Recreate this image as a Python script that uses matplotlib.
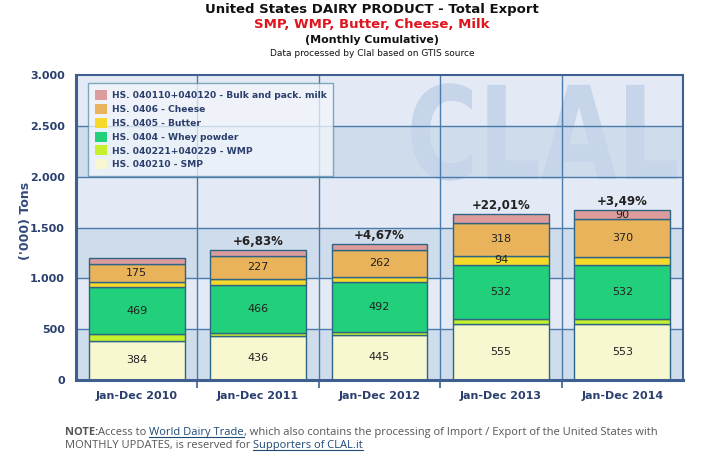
import matplotlib
matplotlib.use('Agg')
import matplotlib.pyplot as plt
from matplotlib.patches import Patch, PathPatch
from matplotlib.textpath import TextPath
from matplotlib.font_manager import FontProperties
from matplotlib.transforms import Affine2D
import numpy as np

# data (thousand tons)
years = ['Jan-Dec 2010', 'Jan-Dec 2011', 'Jan-Dec 2012', 'Jan-Dec 2013', 'Jan-Dec 2014']
smp = [384, 436, 445, 555, 553]
wmp = [65, 29, 30, 43, 50]
whey = [469, 466, 492, 532, 532]
butter = [47, 65, 49, 94, 75]
cheese = [175, 227, 262, 318, 370]
milk = [57, 56, 60, 88, 90]
growth = ['', '+6,83%', '+4,67%', '+22,01%', '+3,49%']

names = ['HS. 040210 - SMP', 'HS. 040221+040229 - WMP', 'HS. 0404 - Whey powder',
         'HS. 0405 - Butter', 'HS. 0406 - Cheese', 'HS. 040110+040120 - Bulk and pack. milk']
colors = ['#f7f8cf', '#c6f02c', '#22cf7a', '#f6d92a', '#e8b35b', '#dd9c9c']
series = [smp, wmp, whey, butter, cheese, milk]
show = [[1] * 5, [0] * 5, [1] * 5, [0, 0, 0, 1, 0], [1] * 5, [0, 0, 0, 0, 1]]

yticks = [0, 500, 1000, 1500, 2000, 2500, 3000]
ytick_labels = ['0', '500', '1.000', '1.500', '2.000', '2.500', '3.000']

navy = '#2b3f6e'
frame = '#3f5f90'

fig = plt.figure(figsize=(7.19, 4.71), dpi=100)
ax = fig.add_axes([76 / 719, 1 - 380 / 471, 607 / 719, 305 / 471])

x = np.arange(len(years))
ax.set_xlim(-0.5, len(years) - 0.5)
ax.set_ylim(0, 3000)

# background bands
for i in range(6):
    c = '#cfdcec' if i % 2 == 0 else '#e3eaf5'
    ax.axhspan(i * 500, (i + 1) * 500, color=c, zorder=0, lw=0)

# CLAL watermark
fp = FontProperties(family='DejaVu Sans', weight='bold')
tp = TextPath((0, 0), 'CLAL', prop=fp, size=1)
ext = tp.get_extents()
x0, x1, y0, y1 = 2.26, 4.45, 1960, 2920
tr = Affine2D().translate(-ext.x0, -ext.y0).scale((x1 - x0) / ext.width, (y1 - y0) / ext.height).translate(x0, y0)
ax.add_patch(PathPatch(tr.transform_path(tp), facecolor='#c6d5ea', edgecolor='none', zorder=0.3))

# grid
for yv in yticks[1:-1]:
    ax.axhline(yv, color='#4a7bab', lw=1, zorder=0.5)
for xv in np.arange(0.5, len(years) - 0.5):
    ax.axvline(xv, color='#4a7bab', lw=1, zorder=0.5)

bottom = np.zeros(len(years))
for vals, col, sh in zip(series, colors, show):
    vals = np.array(vals)
    ax.bar(x, vals, 0.79, bottom=bottom, color=col, edgecolor='#2f6584', lw=1, zorder=2)
    for i in range(len(years)):
        if sh[i]:
            ax.text(x[i], bottom[i] + vals[i] / 2, str(vals[i]), ha='center', va='center',
                    fontsize=8, color='#222222', zorder=3)
    bottom += vals

for i in range(len(years)):
    if growth[i]:
        ax.text(x[i], bottom[i] + 22, growth[i], ha='center', va='bottom', fontsize=8.5,
                fontweight='bold', color='#222222')

ax.set_yticks(yticks)
ax.set_yticklabels(ytick_labels, fontsize=8, fontweight='bold', color=navy)
ax.set_xticks(x)
ax.set_xticklabels(years, fontsize=8, fontweight='bold', color=navy)
ax.set_xticks(np.arange(0.5, len(years) - 0.5), minor=True)
ax.tick_params(axis='x', which='major', length=0, pad=8)
ax.tick_params(axis='x', which='minor', length=6, color=frame, width=1.2)
ax.tick_params(axis='y', length=0, pad=8)

for s in ['left', 'bottom']:
    ax.spines[s].set_linewidth(2.2)
    ax.spines[s].set_color(frame)
for s in ['top', 'right']:
    ax.spines[s].set_linewidth(1.5)
    ax.spines[s].set_color(frame)

ax.set_ylabel("('000) Tons", fontsize=9, fontweight='bold', color='#34497a')
ax.yaxis.set_label_coords(-0.072, 0.52)

handles = [Patch(facecolor=c, edgecolor='none', label=n) for c, n in zip(colors, names)][::-1]
leg = ax.legend(handles=handles, loc='upper left', bbox_to_anchor=(0.02, 0.974), fontsize=6.6,
                frameon=True, fancybox=False, handlelength=1.3, handleheight=1.3,
                handletextpad=0.5, labelspacing=0.42, borderpad=0.75, borderaxespad=0)
leg.get_frame().set_edgecolor('#5a8fa8')
leg.get_frame().set_facecolor('#f4f7fb')
leg.get_frame().set_alpha(0.75)
for t in leg.get_texts():
    t.set_color(navy)
    t.set_fontweight('bold')
leg.set_zorder(5)

# titles
cx = 372 / 719
fig.text(cx, 1 - 10 / 471, 'United States DAIRY PRODUCT - Total Export', ha='center', va='center',
         fontsize=9.5, fontweight='bold', color='#111111')
fig.text(cx, 1 - 25 / 471, 'SMP, WMP, Butter, Cheese, Milk', ha='center', va='center',
         fontsize=9.5, fontweight='bold', color='#e0141c')
fig.text(cx, 1 - 40 / 471, '(Monthly Cumulative)', ha='center', va='center',
         fontsize=7.9, fontweight='bold', color='#111111')
fig.text(cx, 1 - 54 / 471, 'Data processed by Clal based on GTIS source', ha='center', va='center',
         fontsize=6.5, color='#111111')

# note with underlined links
fig.canvas.draw()
renderer = fig.canvas.get_renderer()
note_font = dict(fontsize=8.0, family='Open Sans')


def put_line(parts, xpix, ypix):
    for txt, kind in parts:
        kw = dict(note_font)
        col = '#555555'
        if kind == 'bold':
            kw['fontweight'] = 'bold'
        if kind == 'link':
            col = '#1f4a74'
        t = fig.text(xpix / 719, 1 - ypix / 471, txt, ha='left', va='baseline', color=col, **kw)
        bb = t.get_window_extent(renderer)
        if kind == 'link':
            fig.add_artist(plt.Line2D([bb.x0 / 719, bb.x1 / 719], [(471 - ypix - 2) / 471] * 2,
                                      color=col, lw=0.8))
        xpix = bb.x1


put_line([('NOTE:', 'bold'), ('Access to ', ''), ('World Dairy Trade', 'link'),
          (', which also contains the processing of Import / Export of the United States with', '')],
         65, 435)
put_line([('MONTHLY UPDATES, is reserved for ', ''), ('Supporters of CLAL.it', 'link')], 65, 448)

fig.savefig('out.png', dpi=100, facecolor='white')
